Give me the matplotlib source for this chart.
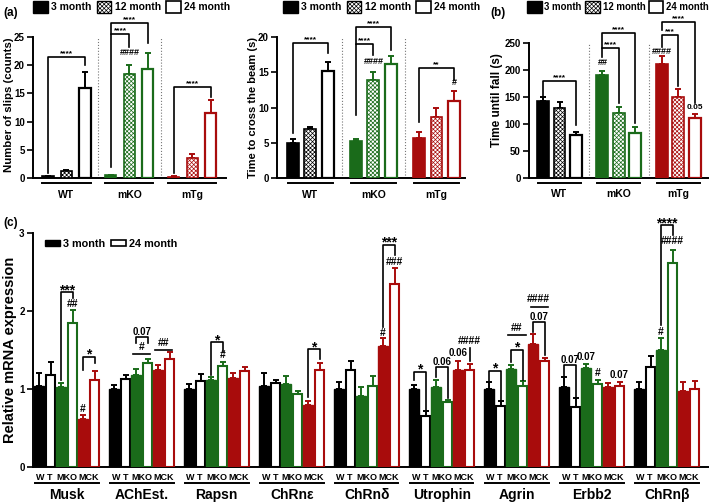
import matplotlib
matplotlib.use("Agg")
import matplotlib.pyplot as plt
from matplotlib.patches import Patch

plt.rcParams['font.family'] = ['Liberation Sans', 'DejaVu Sans']
plt.rcParams['font.weight'] = 'bold'
plt.rcParams['hatch.linewidth'] = 0.5

# ---- data -------------------------------------------------------------
groups_ab = ['WT', 'mKO', 'mTg']
ages_ab = ['3 month', '12 month', '24 month']

slips_mean = [[0.3, 1.3, 16.0], [0.5, 18.4, 19.3], [0.2, 3.6, 11.5]]
slips_err = [[0.1, 0.2, 2.8], [0.1, 1.6, 2.9], [0.1, 0.7, 2.3]]

beam_mean = [[4.9, 7.0, 15.2], [5.3, 13.9, 16.1], [5.7, 8.6, 10.9]]
beam_err = [[0.7, 0.3, 1.3], [0.3, 1.2, 1.2], [0.8, 1.3, 1.4]]

fall_mean = [[142, 130, 79], [191, 120, 83], [212, 150, 112]]
fall_err = [[8, 10, 7], [8, 12, 12], [14, 14, 7]]

genes = ['Musk', 'AChEst.', 'Rapsn', 'ChRnε', 'ChRnδ', 'Utrophin', 'Agrin', 'Erbb2', 'ChRnβ']
genotypes_c = ['W T', 'MKO', 'MCK']
# order in each gene: WT 3m, WT 24m, MKO 3m, MKO 24m, MCK 3m, MCK 24m
mrna_mean = [
    [1.04, 1.18, 1.02, 1.85, 0.62, 1.12],
    [1.00, 1.13, 1.18, 1.33, 1.25, 1.39],
    [1.00, 1.10, 1.11, 1.30, 1.14, 1.23],
    [1.04, 1.08, 1.07, 0.93, 0.79, 1.24],
    [1.00, 1.24, 0.91, 1.04, 1.55, 2.35],
    [1.00, 0.65, 1.02, 0.83, 1.24, 1.25],
    [1.00, 0.78, 1.26, 1.04, 1.58, 1.36],
    [1.02, 0.77, 1.27, 1.07, 1.02, 1.04],
    [1.00, 1.28, 1.50, 2.61, 0.98, 1.00],
]
mrna_err = [
    [0.16, 0.17, 0.06, 0.16, 0.05, 0.11],
    [0.05, 0.05, 0.08, 0.05, 0.06, 0.08],
    [0.07, 0.09, 0.05, 0.05, 0.07, 0.05],
    [0.16, 0.04, 0.10, 0.04, 0.06, 0.09],
    [0.09, 0.12, 0.11, 0.13, 0.10, 0.20],
    [0.05, 0.07, 0.10, 0.03, 0.12, 0.07],
    [0.09, 0.06, 0.05, 0.06, 0.12, 0.04],
    [0.13, 0.11, 0.05, 0.05, 0.06, 0.05],
    [0.09, 0.14, 0.15, 0.17, 0.11, 0.10],
]

colors = ['black', '#1a6b1a', '#a80c0c']
HATCH = 'xxxxxxxx'

W, H = 709, 503
fig = plt.figure(figsize=(W / 100, H / 100), dpi=100)


def add_ax(x0, x1, yt, yb):
    # axes placed by pixel edges of the reference
    return fig.add_axes([x0 / W, 1 - yb / H, (x1 - x0) / W, (yb - yt) / H])


def style(ax):
    for s in ['top', 'right']:
        ax.spines[s].set_visible(False)
    ax.spines['left'].set_linewidth(1.4)
    ax.spines['bottom'].set_linewidth(1.4)
    ax.tick_params(axis='y', direction='out', length=4, width=1.2, labelsize=7, pad=2)
    ax.tick_params(axis='x', length=0, labelbottom=False)


def bracket(ax, x1, x2, top, l1, l2, text, fs, dy=0.0):
    ax.plot([x1, x1, x2, x2], [l1, top, top, l2], color='black', lw=1.2, clip_on=False)
    ax.annotate(text, xy=((x1 + x2) / 2, top), xytext=(0, dy), textcoords='offset points',
                ha='center', va='bottom', fontsize=fs, annotation_clip=False)


def mark(ax, x, y, text, fs):
    ax.text(x, y, text, ha='center', va='center', fontsize=fs, clip_on=False)


def behaviour(ax, means, errs, pitch, width, ylim, yticks):
    style(ax)
    for g in range(3):
        col = colors[g]
        for k in range(3):
            x = g * pitch + k
            m, e = means[g][k], errs[g][k]
            ax.errorbar(x, m, yerr=[[0], [e]], fmt='none', ecolor=col, elinewidth=1.4,
                        capsize=2.5, capthick=1.4, zorder=2)
            if k == 0:
                ax.bar(x, m, width, color=col, edgecolor=col, lw=1.2, zorder=3)
            elif k == 1:
                ax.bar(x, m, width, facecolor='white', edgecolor=col, hatch=HATCH, lw=1.2, zorder=3)
            else:
                ax.bar(x, m, width, facecolor='white', edgecolor=col, lw=1.6, zorder=3)
        if g < 2:
            ax.axvline(g * pitch + (2 + pitch) / 2, color='#777777', ls=':', lw=0.8)
        tr = ax.get_xaxis_transform()
        ax.plot([g * pitch - 0.3, g * pitch + 2.3], [-0.035, -0.035], color='black', lw=1.4,
                transform=tr, clip_on=False)
        ax.text(g * pitch + 1, -0.12, groups_ab[g], transform=tr, ha='center', va='center',
                fontsize=7.5)
    ax.set_ylim(*ylim)
    ax.set_yticks(yticks)


def top_legend(x_px, fs=7.5, cs=0.55):
    handles = [Patch(facecolor='black', edgecolor='black'),
               Patch(facecolor='white', edgecolor='black', hatch=HATCH),
               Patch(facecolor='white', edgecolor='black', lw=1.2)]
    fig.legend(handles, ages_ab, loc='center left', bbox_to_anchor=(x_px / W, 1 - 7 / H),
               ncol=3, frameon=False, fontsize=fs, handlelength=1.4 * 7.5 / fs,
               handleheight=1.3 * 7.5 / fs, handletextpad=0.3, columnspacing=cs,
               borderpad=0, borderaxespad=0)


# ---- panel (a) left: slips ----------------------------------------------
ax1 = add_ax(33, 226, 37, 178)
p1 = 3.4
behaviour(ax1, slips_mean, slips_err, p1, 0.6, (0, 25), [0, 5, 10, 15, 20, 25])
ax1.set_xlim(-0.81, 9.62)
bracket(ax1, 0, 2, 21.5, 0.9, 20.0, '****', 6)
bracket(ax1, p1, p1 + 1, 25.5, 2.0, 23.2, '****', 6)
bracket(ax1, p1, p1 + 2, 27.5, 25.5, 24.0, '****', 6)
mark(ax1, p1 + 1, 22.3, '####', 6.5)
bracket(ax1, 2 * p1, 2 * p1 + 2, 16.1, 0.9, 14.4, '****', 6)

# ---- panel (a) middle: beam ---------------------------------------------
ax2 = add_ax(277, 465, 37, 178)
p2 = 3.6
behaviour(ax2, beam_mean, beam_err, p2, 0.68, (0, 20), [0, 5, 10, 15, 20])
ax2.set_xlim(-0.91, 9.83)
bracket(ax2, 0, 2, 19.1, 6.4, 17.7, '****', 6)
bracket(ax2, p2, p2 + 1, 19.0, 8.9, 17.4, '****', 6)
bracket(ax2, p2, p2 + 2, 21.4, 19.0, 18.2, '****', 6)
mark(ax2, p2 + 1, 16.5, '####', 6.5)
bracket(ax2, 2 * p2, 2 * p2 + 2, 15.6, 7.9, 13.9, '**', 6)
mark(ax2, 2 * p2 + 2, 13.5, '#', 6.5)

# ---- panel (b): time until fall -----------------------------------------
ax3 = add_ax(529, 709, 43, 178)
p3 = 3.6
behaviour(ax3, fall_mean, fall_err, p3, 0.72, (0, 250), [0, 50, 100, 150, 200, 250])
ax3.set_xlim(-0.85, 10.06)
bracket(ax3, 0, 2, 180, 150, 98, '****', 6)
bracket(ax3, p3, p3 + 1, 241, 224, 139, '****', 6)
bracket(ax3, p3, p3 + 2, 269, 241, 102, '****', 6)
mark(ax3, p3, 213, '##', 6.5)
bracket(ax3, 2 * p3, 2 * p3 + 1, 265, 243, 170, '***', 6)
bracket(ax3, 2 * p3, 2 * p3 + 2, 289, 274, 139, '****', 6)
mark(ax3, 2 * p3, 235, '####', 6.5)
mark(ax3, 2 * p3 + 2, 131, '0.05', 6)

# ---- panel (c): mRNA ------------------------------------------------------
ax4 = add_ax(33, 709, 233, 467)
style(ax4)
pc = 7.5
offs = [0, 1.15, 2.2, 3.35, 4.4, 5.55]


def xc(g, i):
    return g * pc + offs[i]


for g in range(len(genes)):
    for i in range(6):
        col = colors[i // 2]
        m, e = mrna_mean[g][i], mrna_err[g][i]
        x = xc(g, i)
        ax4.errorbar(x, m, yerr=[[0], [e]], fmt='none', ecolor=col, elinewidth=1.4,
                     capsize=2.5, capthick=1.4, zorder=2)
        if i % 2 == 0:
            ax4.bar(x, m, 0.95, color=col, edgecolor=col, lw=1.0, zorder=3)
        else:
            ax4.bar(x, m, 0.95, facecolor='white', edgecolor=col, lw=1.5, zorder=3)
    tr = ax4.get_xaxis_transform()
    for j in range(3):
        ax4.text((xc(g, 2 * j) + xc(g, 2 * j + 1)) / 2, -0.043, genotypes_c[j], transform=tr,
                 ha='center', va='center', fontsize=6.5)
    ax4.plot([xc(g, 0) - 0.4, xc(g, 5) + 0.4], [-0.068, -0.068], color='black', lw=1.4,
             transform=tr, clip_on=False)
    ax4.text(xc(g, 0) + 2.78, -0.12, genes[g], transform=tr, ha='center', va='center',
             fontsize=10)

ax4.set_xlim(-0.6, 67.0)
ax4.set_ylim(0, 3)
ax4.set_yticks([0, 1, 2, 3])

fa, fn, fh = 10, 7, 7.5  # asterisk, number, hash sizes
da = -3.5
# Musk
bracket(ax4, xc(0, 2), xc(0, 3), 2.24, 1.12, 2.17, '***', fa, da)
mark(ax4, xc(0, 3), 2.09, '##', fh)
bracket(ax4, xc(0, 4), xc(0, 5), 1.41, 1.24, 1.33, '*', fa, da)
mark(ax4, xc(0, 4), 0.74, '#', fh)
# AChEst.
bracket(ax4, xc(1, 2), xc(1, 3), 1.67, 1.59, 1.59, '0.07', fn, 0)
ax4.plot([xc(1, 2) - 0.3, xc(1, 3) + 0.2], [1.45, 1.45], color='black', lw=1.2)
mark(ax4, (xc(1, 2) + xc(1, 3)) / 2, 1.54, '#', fh)
ax4.plot([xc(1, 4) - 0.3, xc(1, 5) + 0.2], [1.5, 1.5], color='black', lw=1.2)
mark(ax4, (xc(1, 4) + xc(1, 5)) / 2, 1.59, '##', fh)
# Rapsn
bracket(ax4, xc(2, 2), xc(2, 3), 1.6, 1.18, 1.47, '*', fa, da)
mark(ax4, xc(2, 3), 1.43, '#', fh)
# ChRn epsilon
bracket(ax4, xc(3, 4), xc(3, 5), 1.51, 0.9, 1.38, '*', fa, da)
# ChRn delta
bracket(ax4, xc(4, 4), xc(4, 5), 2.85, 1.79, 2.72, '***', fa, da)
mark(ax4, xc(4, 5), 2.63, '###', fh)
mark(ax4, xc(4, 4), 1.72, '#', fh)
# Utrophin
bracket(ax4, xc(5, 0), xc(5, 1), 1.22, 1.12, 0.71, '*', fa, da)
bracket(ax4, xc(5, 2), xc(5, 3), 1.28, 1.15, 0.88, '0.06', fn, 0)
mark(ax4, xc(5, 4), 1.46, '0.06', fn)
ax4.plot([xc(5, 5), xc(5, 5)], [1.36, 1.53], color='black', lw=1.2)
mark(ax4, xc(5, 5), 1.62, '####', fh)
# Agrin
bracket(ax4, xc(6, 0), xc(6, 1), 1.23, 1.09, 0.86, '*', fa, da)
bracket(ax4, xc(6, 2), xc(6, 3), 1.5, 1.35, 1.12, '*', fa, da)
ax4.plot([xc(6, 2) - 0.3, xc(6, 3) + 0.3], [1.69, 1.69], color='black', lw=1.2)
mark(ax4, (xc(6, 2) + xc(6, 3)) / 2, 1.78, '##', fh)
bracket(ax4, xc(6, 4), xc(6, 5), 1.86, 1.73, 1.44, '0.07', fn, 0)
ax4.plot([xc(6, 4) - 0.2, xc(6, 5) + 0.3], [2.05, 2.05], color='black', lw=1.2)
mark(ax4, (xc(6, 4) + xc(6, 5)) / 2, 2.15, '####', fh)
# Erbb2
bracket(ax4, xc(7, 0), xc(7, 1), 1.31, 1.17, 0.9, '0.07', fn, 0)
mark(ax4, xc(7, 2), 1.41, '0.07', fn)
mark(ax4, xc(7, 3), 1.2, '#', fh)
mark(ax4, xc(7, 5), 1.18, '0.07', fn)
# ChRn beta
bracket(ax4, xc(8, 2), xc(8, 3), 3.1, 1.82, 2.97, '****', fa, da)
mark(ax4, xc(8, 3), 2.9, '####', fh)
mark(ax4, xc(8, 2), 1.73, '#', fh)

# ---- legends, labels ------------------------------------------------------
top_legend(33)
top_legend(283)
top_legend(527, fs=6.9, cs=0.35)
hc = [Patch(facecolor='black', edgecolor='black'),
      Patch(facecolor='white', edgecolor='black', lw=1.2)]
fig.legend(hc, ['3 month', '24 month'], loc='center left', bbox_to_anchor=(45 / W, 1 - 244 / H),
           ncol=2, frameon=False, fontsize=7.8, handlelength=1.35, handleheight=0.55,
           handletextpad=0.3, columnspacing=0.55, borderpad=0, borderaxespad=0)

fig.text(9 / W, 1 - 105 / H, 'Number of slips (counts)', rotation=90, ha='center', va='center', fontsize=8.2)
fig.text(253 / W, 1 - 108 / H, 'Time to cross the beam (s)', rotation=90, ha='center', va='center', fontsize=8)
fig.text(497 / W, 1 - 100 / H, 'Time until fall (s)', rotation=90, ha='center', va='center', fontsize=8.5)
fig.text(10 / W, 1 - 350 / H, 'Relative mRNA expression', rotation=90, ha='center', va='center', fontsize=10.5)

fig.text(3 / W, 1 - 13 / H, '(a)', ha='left', va='center', fontsize=8.5)
fig.text(490 / W, 1 - 13 / H, '(b)', ha='left', va='center', fontsize=8.5)
fig.text(3 / W, 1 - 223 / H, '(c)', ha='left', va='center', fontsize=8.5)

fig.savefig('out.png', dpi=100)
